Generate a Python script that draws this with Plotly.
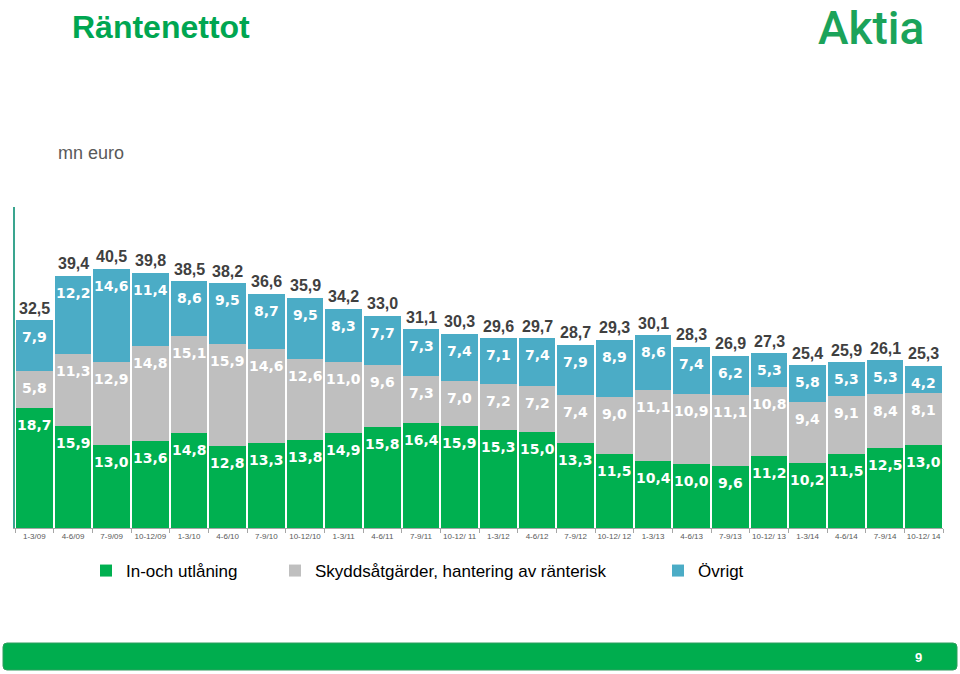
import plotly.graph_objects as go

# ---------------- data ----------------
quarters = ["1-3/09", "4-6/09", "7-9/09", "10-12/09", "1-3/10", "4-6/10", "7-9/10", "10-12/10",
            "1-3/11", "4-6/11", "7-9/11", "10-12/ 11", "1-3/12", "4-6/12", "7-9/12", "10-12/ 12",
            "1-3/13", "4-6/13", "7-9/13", "10-12/ 13", "1-3/14", "4-6/14", "7-9/14", "10-12/ 14"]
lending = [18.7, 15.9, 13.0, 13.6, 14.8, 12.8, 13.3, 13.8, 14.9, 15.8, 16.4, 15.9,
           15.3, 15.0, 13.3, 11.5, 10.4, 10.0, 9.6, 11.2, 10.2, 11.5, 12.5, 13.0]
hedging = [5.8, 11.3, 12.9, 14.8, 15.1, 15.9, 14.6, 12.6, 11.0, 9.6, 7.3, 7.0,
           7.2, 7.2, 7.4, 9.0, 11.1, 10.9, 11.1, 10.8, 9.4, 9.1, 8.4, 8.1]
other = [7.9, 12.2, 14.6, 11.4, 8.6, 9.5, 8.7, 9.5, 8.3, 7.7, 7.3, 7.4,
         7.1, 7.4, 7.9, 8.9, 8.6, 7.4, 6.2, 5.3, 5.8, 5.3, 5.3, 4.2]
totals = [32.5, 39.4, 40.5, 39.8, 38.5, 38.2, 36.6, 35.9, 34.2, 33.0, 31.1, 30.3,
          29.6, 29.7, 28.7, 29.3, 30.1, 28.3, 26.9, 27.3, 25.4, 25.9, 26.1, 25.3]
series_names = ["In-och utlåning", "Skyddsåtgärder, hantering av ränterisk", "Övrigt"]

# ---------------- layout geometry (pixels) ----------------
W, H = 960, 674
L, R, T, B = 15, 943, 207, 528
PW, PH = R - L, B - T


def px(p):
    return (p - L) / PW


def py(p):
    return (B - p) / PH


def fmt(v):
    return f"{v:.1f}".replace(".", ",")


GREEN = "#00B050"
GRAY = "#BFBFBF"
BLUE = "#4BACC6"

fig = go.Figure()
annotations = []
cum = [0.0] * len(quarters)
for vals, name, col, lw in [(lending, series_names[0], GREEN, 144),
                            (hedging, series_names[1], GRAY, 338),
                            (other, series_names[2], BLUE, 100)]:
    fig.add_trace(go.Bar(
        x=quarters, y=vals, name=name, marker=dict(color=col, line=dict(width=0)),
        legendwidth=lw, hoverinfo="skip",
    ))
    cum = [c + v for c, v in zip(cum, vals)]
    for q, top, v in zip(quarters, cum, vals):
        annotations.append(dict(
            x=q, y=top, xref="x", yref="y", text=fmt(v), showarrow=False,
            xanchor="center", yanchor="middle", yshift=-17,
            font=dict(family="DejaVu Sans", size=14, color="white", weight="bold")))

for q, top, t in zip(quarters, cum, totals):
    annotations.append(dict(
        x=q, y=top, xref="x", yref="y", text=fmt(t), showarrow=False,
        xanchor="center", yanchor="middle", yshift=12,
        font=dict(family="Liberation Sans, Arial", size=16, color="#404040", weight="bold")))

r = 4
x0, x1, y0, y1 = 3, 957, 643, 670
path = (f"M {px(x0 + r)},{py(y0)} L {px(x1 - r)},{py(y0)} Q {px(x1)},{py(y0)} {px(x1)},{py(y0 + r)} "
        f"L {px(x1)},{py(y1 - r)} Q {px(x1)},{py(y1)} {px(x1 - r)},{py(y1)} "
        f"L {px(x0 + r)},{py(y1)} Q {px(x0)},{py(y1)} {px(x0)},{py(y1 - r)} "
        f"L {px(x0)},{py(y0 + r)} Q {px(x0)},{py(y0)} {px(x0 + r)},{py(y0)} Z")

annotations += [
    dict(text="Räntenettot", xref="paper", yref="paper", x=px(70), y=py(27),
         xanchor="left", yanchor="middle", showarrow=False,
         font=dict(size=32, color="#00A651", family="Liberation Sans, Arial", weight="bold")),
    dict(text="Aktia", xref="paper", yref="paper", x=px(926), y=py(28),
         xanchor="right", yanchor="middle", showarrow=False,
         font=dict(size=46, color="#1BA35A", family="Roboto", weight=500)),
    dict(text="mn euro", xref="paper", yref="paper", x=px(56), y=py(153),
         xanchor="left", yanchor="middle", showarrow=False,
         font=dict(size=18, color="#595959", family="Liberation Sans, Arial")),
    dict(text="<b>9</b>", xref="paper", yref="paper", x=px(918), y=py(657),
         xanchor="center", yanchor="middle", showarrow=False,
         font=dict(size=13, color="white", family="Liberation Sans, Arial")),
]

fig.update_layout(
    width=W, height=H,
    margin=dict(l=L, r=W - R, t=T, b=H - B, pad=0),
    paper_bgcolor="white", plot_bgcolor="white",
    barmode="stack", bargap=0.06,
    font=dict(family="Liberation Sans, Arial", color="#000000"),
    xaxis=dict(type="category", range=[-0.5, len(quarters) - 0.5],
               showline=True, linecolor="#A6A6A6", linewidth=1,
               ticks="outside", tickson="boundaries", ticklen=4, tickcolor="#A6A6A6",
               tickangle=0,
               tickfont=dict(size=8, color="#595959", family="Liberation Sans, Arial"),
               showgrid=False, zeroline=False, fixedrange=True),
    yaxis=dict(range=[0, 50.1], showline=True, linecolor="#3AA58F", linewidth=2,
               showticklabels=False, ticks="", showgrid=False, zeroline=False, fixedrange=True),
    legend=dict(orientation="h", x=px(86), xanchor="left", y=py(571), yanchor="middle",
                font=dict(size=17, color="#000000", family="Liberation Sans, Arial"),
                bgcolor="rgba(0,0,0,0)", traceorder="normal", itemclick=False),
    shapes=[dict(type="path", xref="paper", yref="paper", path=path,
                 fillcolor="#00AD4E", line=dict(color="#2E9E5E", width=1), layer="below")],
    annotations=annotations,
)

fig.write_html("out.html")
